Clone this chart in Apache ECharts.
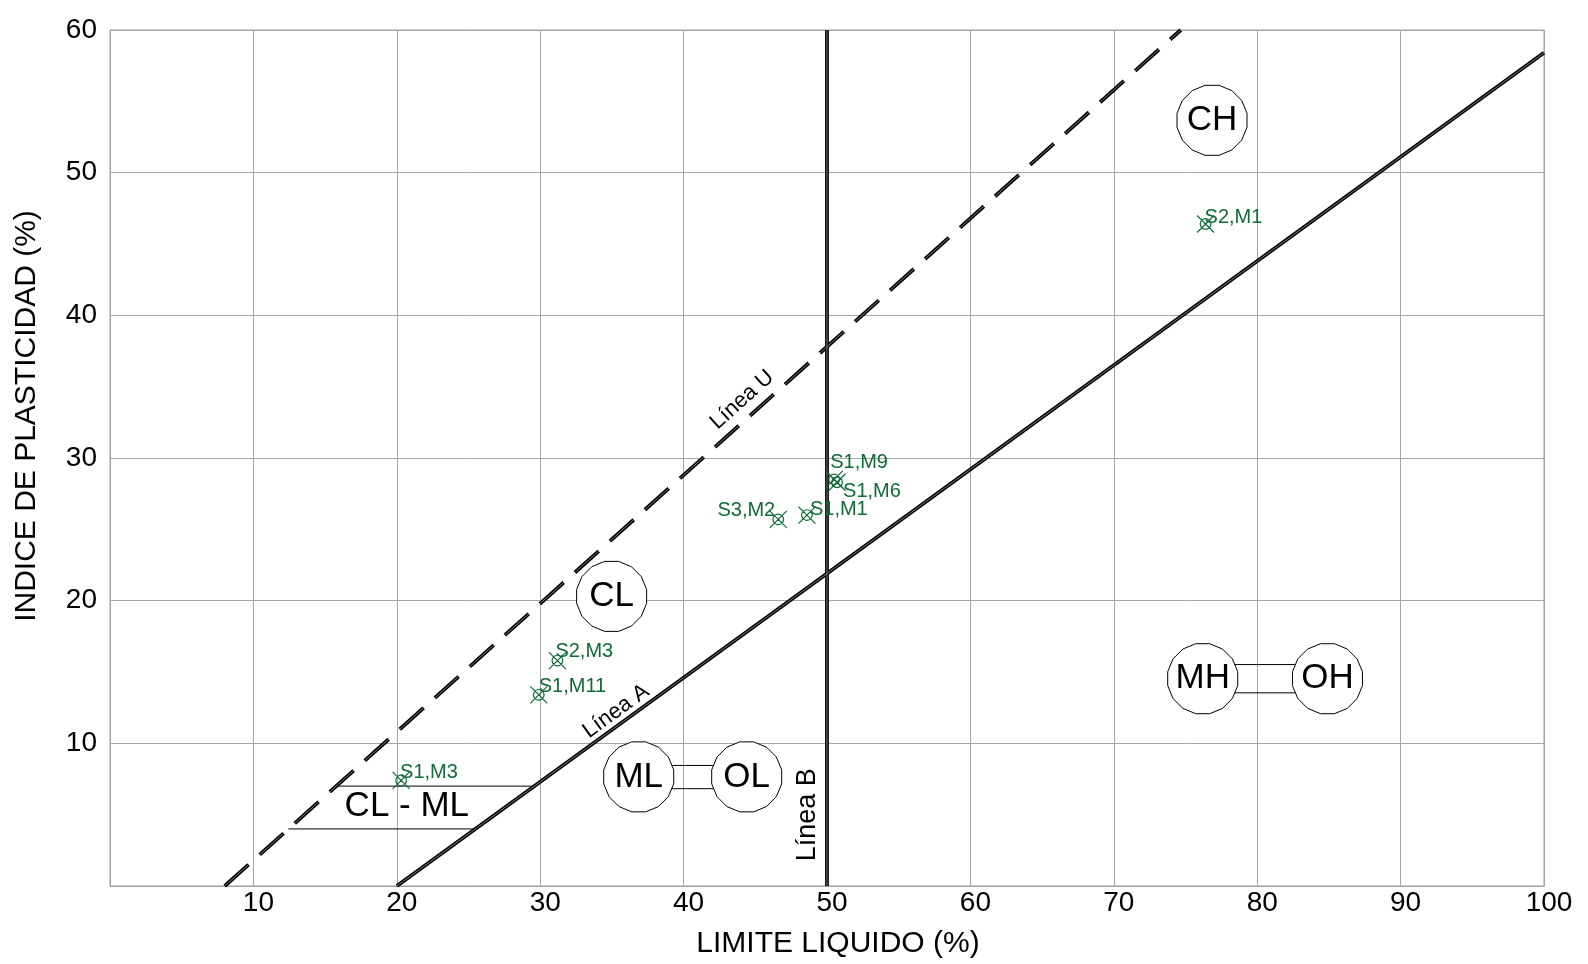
<!DOCTYPE html>
<html><head><meta charset="utf-8">
<script src="https://cdn.jsdelivr.net/npm/echarts@6/dist/echarts.min.js"></script>
<style>html,body{margin:0;padding:0;background:#fff}#c{width:1588px;height:964px}</style>
</head><body><div id="c"></div>
<script>
// ---- data ----
const sampleNames = ['S1,M3','S1,M11','S2,M3','S3,M2','S1,M1','S1,M9','S1,M6','S2,M1'];
const sampleLL    = [20.3, 29.9, 31.2, 46.6, 48.6, 50.5, 50.7, 76.4];
const samplePI    = [7.4, 13.4, 15.8, 25.7, 26.0, 28.5, 28.3, 46.4];

const lineA_LL = [20, 100];   const lineA_PI = [0, 58.4];
const lineU_LL = [8, 74.67];  const lineU_PI = [0, 60];
const lineB_LL = [50, 50];    const lineB_PI = [0, 60];
const clmlTop_LL = [15.78, 29.59]; const clmlTop_PI = [7, 7];
const clmlBot_LL = [12.44, 25.48]; const clmlBot_PI = [4, 4];

const zoneNames = ['CH','CL','ML','OL','MH','OH'];
const zoneLL    = [76.85, 34.98, 36.87, 44.4, 76.2, 84.9];
const zonePI    = [53.67, 20.3, 7.65, 7.65, 14.53, 14.53];

const linkMLOL_LL = [36.87, 44.4]; const linkMLOL_PI = [8.45, 6.82];
const linkMHOH_LL = [76.2, 84.9];  const linkMHOH_PI = [15.52, 13.54];

const noteNames = ['Línea U','Línea A','Línea B','CL - ML'];
const noteLL    = [44.08, 35.29, 48.64, 20.7];
const notePI    = [34.08, 12.25, 5.0, 5.6];

const xTickLabels = ['', '10','20','30','40','50','60','70','80','90','100'];
const yTickLabels = ['', '10','20','30','40','50','60'];

// ---- styles (not data) ----
const labelOffsets = [[-1,-8,'left'],[0,-8,'left'],[-2,-9,'left'],[-3,-9,'right'],[3,-6,'left'],[-4,-17,'left'],[6,9,'left'],[-1,-7,'left']];
const noteRotate = [42, 36, 90, 0];
const noteSize = [22, 22, 27, 35];
const FONT = '"Liberation Sans", Arial, sans-serif';
const GREEN = '#0f6b36';

function pairs(xs, ys){ return xs.map((x,i)=>[x, ys[i]]); }

function doubleLine(xs, ys, dashed){
  const base = {type:'line', data:pairs(xs,ys), symbol:'none', silent:true, animation:false, z:3};
  const dash = dashed ? [32,15] : 'solid';
  return [
    Object.assign({}, base, {lineStyle:{color:'#000', width:3.8, type:dash}}),
    Object.assign({}, base, {z:4, lineStyle:{color:'#7a7a7a', width:1, type:dash}})
  ];
}
function thinLine(xs, ys){
  return {type:'line', data:pairs(xs,ys), symbol:'none', silent:true, animation:false, z:3,
          lineStyle:{color:'#000', width:1}};
}

// 16-sided near-circle
const polyPath = (function(){
  const n = 16, pts = [];
  for (let k = 0; k < n; k++) {
    const a = (k + 0.5) * 2 * Math.PI / n;
    pts.push((50 + 50*Math.cos(a)).toFixed(2) + ',' + (50 - 50*Math.sin(a)).toFixed(2));
  }
  return 'path://M' + pts.join(' L') + ' Z';
})();
const markerPath = 'path://M3,8 A5,5 0 1,0 13,8 A5,5 0 1,0 3,8 Z M0,0 L16,16 M0,16 L16,0';

const noStroke = {textBorderWidth:0, textBorderColor:'transparent', textShadowBlur:0, opacity:1};

const series = [
  ...doubleLine(lineA_LL, lineA_PI, false),
  ...doubleLine(lineU_LL, lineU_PI, true),
  ...doubleLine(lineB_LL, lineB_PI, false),
  thinLine(clmlTop_LL, clmlTop_PI),
  thinLine(clmlBot_LL, clmlBot_PI),
  thinLine(linkMLOL_LL, [linkMLOL_PI[0], linkMLOL_PI[0]]),
  thinLine(linkMLOL_LL, [linkMLOL_PI[1], linkMLOL_PI[1]]),
  thinLine(linkMHOH_LL, [linkMHOH_PI[0], linkMHOH_PI[0]]),
  thinLine(linkMHOH_LL, [linkMHOH_PI[1], linkMHOH_PI[1]]),
  {
    type:'scatter', silent:true, animation:false, z:6,
    symbol: polyPath, symbolSize: 70,
    itemStyle:{color:'#fff', borderColor:'#000', borderWidth:1, opacity:1},
    label:Object.assign({show:true, position:'inside', formatter:p=>p.name, color:'#000', fontSize:35, fontFamily:FONT}, noStroke),
    data: zoneNames.map((n,i)=>({name:n, value:[zoneLL[i], zonePI[i]]}))
  },
  {
    type:'scatter', silent:true, animation:false, z:7,
    symbol:'circle', symbolSize:0, itemStyle:{color:'#000', opacity:1},
    data: noteNames.map((n,i)=>({name:n, value:[noteLL[i], notePI[i]],
      label:Object.assign({show:true, position:'inside', formatter:n, rotate:noteRotate[i], fontSize:noteSize[i],
             color:'#000', fontFamily:FONT, align:'center', verticalAlign:'middle'}, noStroke)}))
  },
  {
    type:'scatter', silent:true, animation:false, z:8,
    symbol: markerPath, symbolSize: 17,
    itemStyle:{color:'rgba(0,0,0,0)', borderColor:GREEN, borderWidth:1.2, opacity:1},
    data: sampleNames.map((n,i)=>({name:n, value:[sampleLL[i], samplePI[i]],
      label:Object.assign({show:true, position:'inside', formatter:n, color:GREEN, fontSize:20, fontFamily:FONT,
             align:labelOffsets[i][2], verticalAlign:'middle', offset:[labelOffsets[i][0], labelOffsets[i][1]]}, noStroke)}))
  }
];

const chart = echarts.init(document.getElementById('c'), null, {renderer:'canvas'});
chart.setOption({
  backgroundColor:'#fff',
  animation:false,
  grid:{left:110, right:44, top:30, bottom:77, show:true, borderColor:'#a0a0a0', borderWidth:1, containLabel:false},
  xAxis:{
    type:'value', min:0, max:100, interval:10,
    name:'LIMITE LIQUIDO (%)', nameLocation:'middle', nameGap:43,
    nameTextStyle:{fontSize:30, color:'#000', fontFamily:FONT, padding:[0,0,0,22]},
    axisLine:{show:true, lineStyle:{color:'#a0a0a0'}}, axisTick:{show:false},
    axisLabel:{fontSize:28, color:'#000', fontFamily:FONT, margin:3, padding:[0,0,0,10],
               formatter:(v)=>xTickLabels[Math.round(v/10)]},
    splitLine:{show:true, lineStyle:{color:'#a6a6a6', width:1}}
  },
  yAxis:{
    type:'value', min:0, max:60, interval:10,
    name:'INDICE DE PLASTICIDAD (%)', nameLocation:'middle', nameGap:68,
    nameTextStyle:{fontSize:30, color:'#000', fontFamily:FONT, padding:[0,0,0,84]},
    axisLine:{show:true, lineStyle:{color:'#a0a0a0'}}, axisTick:{show:false},
    axisLabel:{fontSize:28, color:'#000', fontFamily:FONT, margin:13,
               formatter:(v)=>yTickLabels[Math.round(v/10)]},
    splitLine:{show:true, lineStyle:{color:'#a6a6a6', width:1}}
  },
  series: series
});
</script></body></html>
